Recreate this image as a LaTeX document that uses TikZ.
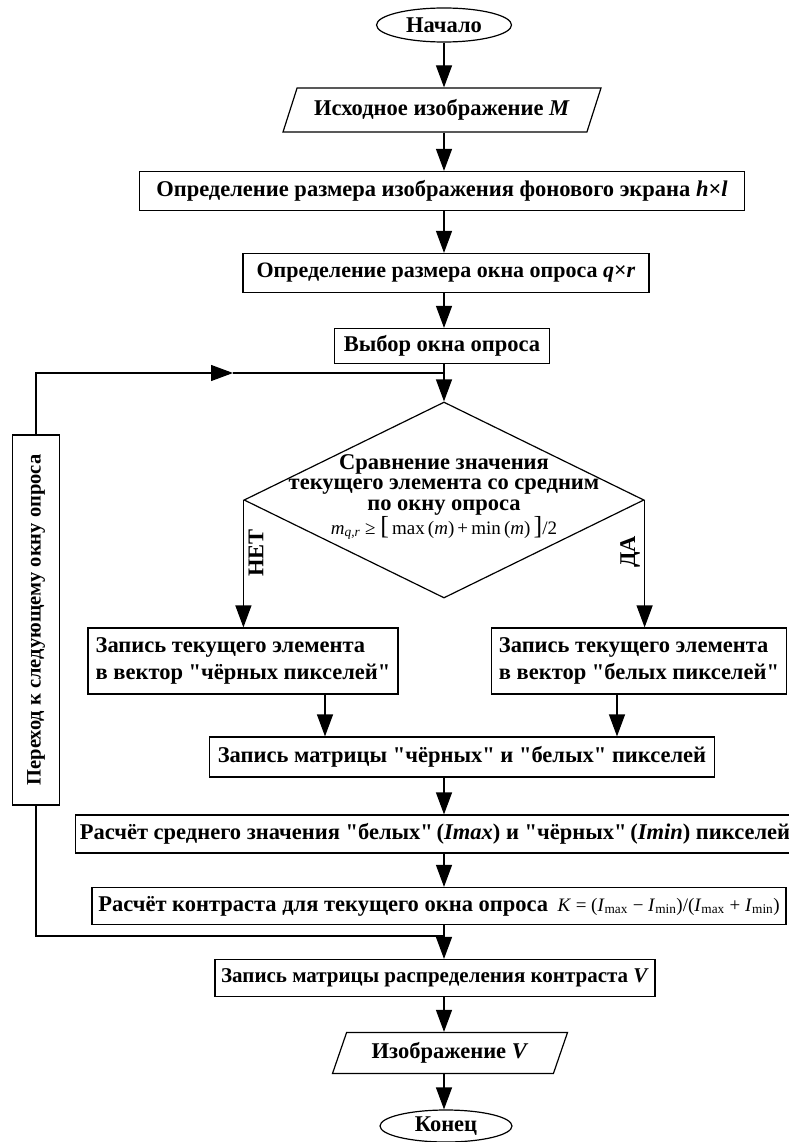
\documentclass[tikz,border=0pt]{standalone}
\usepackage{fontspec}
\setmainfont{Liberation Serif}[Ligatures=TeXOff]
\usetikzlibrary{positioning,shapes.geometric,arrows.meta}

\tikzset{
  blk/.style={draw,line width=1.2pt,rectangle,inner sep=0pt,
    font=\bfseries\fontsize{22.5}{27}\selectfont},
  io/.style={draw,line width=1.2pt,trapezium,trapezium left angle=56,
    trapezium right angle=124,trapezium stretches body,inner sep=0pt,
    font=\bfseries\fontsize{22.5}{27}\selectfont},
  term/.style={draw,line width=1.2pt,ellipse,inner sep=0pt,
    font=\bfseries\fontsize{22.5}{27}\selectfont},
  arr/.style={line width=1.2pt,-{Triangle[length=22pt,width=16pt]}},
  ln/.style={line width=1.2pt}
}
\newcommand{\fml}{\mdseries\fontsize{19}{21}\selectfont}
\newcommand{\bigbr}[1]{{\fontsize{26}{21}\selectfont#1}}

\begin{document}
\begin{tikzpicture}[x=1pt,y=-1pt]
\useasboundingbox (0,0) rectangle (788,1142);
\coordinate (ax) at (444,0);
\coordinate (bx) at (325,0);
\coordinate (wx) at (617,0);

% main column
\node[term,minimum width=135pt,minimum height=34pt] (start) at (444,25) {Начало};
\node[io,minimum width=318pt,minimum height=44pt] (in1) at (442,110) {Исходное изображение \textit{M}};
\node[blk,minimum width=605pt,minimum height=39pt] (sz1) at (442,191) {Определение размера изображения фонового экрана \textit{h}×\textit{l}};
\node[blk,minimum width=406pt,minimum height=39pt,font=\bfseries\fontsize{22}{27}\selectfont] (sz2) at (446,273) {Определение размера окна опроса \textit{q}×\textit{r}};
\node[blk,minimum width=215pt,minimum height=35pt] (sel) at (442,346) {Выбор окна опроса};

% comparison
\node[draw,line width=1.2pt,diamond,minimum width=400pt,minimum height=196pt,inner sep=0pt] (cmp) at (444,500) {};
\node[align=center,font=\bfseries\fontsize{22.5}{20.5}\selectfont] (cmptxt) at (444,497) {Сравнение значения\\текущего элемента со средним\\по окну опроса\\
  {\fml\textit{m}\textsubscript{\textit{q,r}} ≥ \bigbr{[}\,max\,(\textit{m})\,+\,min\,(\textit{m})\,\bigbr{]}/2}};
\node[rotate=90,font=\bfseries\fontsize{22.5}{27}\selectfont] (no) at (256,553) {НЕТ};
\node[rotate=90,font=\bfseries\fontsize{22.5}{27}\selectfont] (yes) at (630,552) {ДА};

\node[blk,align=left,minimum width=310pt,minimum height=66pt] (black) at (243,661) {Запись текущего элемента\\в вектор "чёрных пикселей"};
\node[blk,align=left,minimum width=295pt,minimum height=66pt] (white) at (639,661) {Запись текущего элемента\\в вектор "белых пикселей"};

\node[blk,minimum width=505pt,minimum height=40pt] (mat) at (462,757) {Запись матрицы "чёрных" и "белых" пикселей};
\node[blk,minimum width=719pt,minimum height=38pt] (avg) at (435,834) {Расчёт среднего значения "белых"\,(\textit{Imax}) и "чёрных"\,(\textit{Imin}) пикселей};
\node[blk,minimum width=694pt,minimum height=37pt] (ctr) at (439,906) {Расчёт контраста для текущего окна опроса\,
  {\fml\textit{K} = (\textit{I}\textsubscript{max} − \textit{I}\textsubscript{min})/(\textit{I}\textsubscript{max} + \textit{I}\textsubscript{min})}};
\node[blk,minimum width=440pt,minimum height=37pt,font=\bfseries\fontsize{21}{27}\selectfont] (vmat) at (435,978) {Запись матрицы распределения контраста \textit{V}};
\node[io,minimum width=235pt,minimum height=41pt] (outV) at (450,1053) {Изображение \textit{V}};
\node[term,minimum width=132pt,minimum height=32pt] (stop) at (446,1126) {Конец};

% loop
\node[blk,rotate=90,minimum width=370pt,minimum height=47pt,font=\bfseries\fontsize{20.5}{24}\selectfont] (loop) at (36,620) {Переход к следующему окну опроса};
\coordinate (loopin) at (444,373);
\coordinate (looparr) at (233,373);
\coordinate (jn) at (444,936);

\foreach \a/\b in {start/in1,in1/sz1,sz1/sz2,sz2/sel,mat/avg,avg/ctr,vmat/outV,outV/stop}
  \draw[arr](\a.south -| ax)--(\b.north -| ax);
\draw[arr](sel.south -| ax)--(cmp.north);

\draw[arr](cmp.west)--(cmp.west |- black.north);
\draw[arr](cmp.east)--(cmp.east |- white.north);
\draw[arr](black.south -| bx)--(mat.north -| bx);
\draw[arr](white.south -| wx)--(mat.north -| wx);

\draw[arr](loop.east)|-(looparr);
\draw[ln](looparr)--(loopin);
\draw[ln](ctr.south -| ax)--(jn);
\draw[ln](loop.west)|-(jn);
\draw[arr](jn)--(vmat.north -| ax);

\end{tikzpicture}
\end{document}
